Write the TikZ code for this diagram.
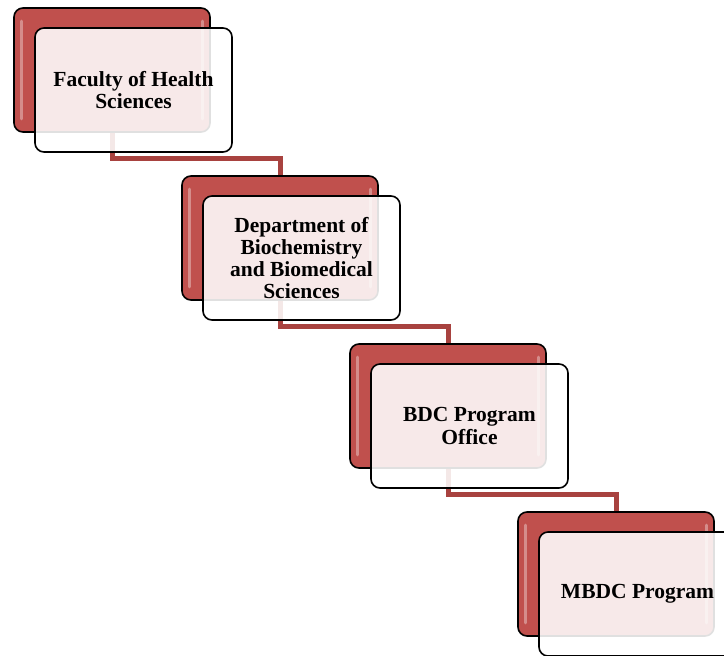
\documentclass[tikz,border=0pt]{standalone}
\usepackage{fontspec}
\newfontfamily\boxfont{Liberation Serif}
\usetikzlibrary{calc,backgrounds}
\definecolor{accent}{HTML}{C0504D}
\definecolor{conncol}{HTML}{A8423F}
\begin{document}
\begin{tikzpicture}[x=1pt,y=-1pt,
  redbox/.style={draw=black, line width=1.6pt, rounded corners=9pt,
    fill=accent, minimum width=196pt, minimum height=124pt, inner sep=0pt},
  whitebox/.style={draw=black, line width=1.6pt, rounded corners=9pt,
    fill=white, fill opacity=0.88, text opacity=1,
    minimum width=197pt, minimum height=124pt, align=center,
    font=\boxfont\bfseries\fontsize{21.5}{22.3}\selectfont},
  gloss/.style={draw=white, draw opacity=0.35, line width=3pt, line cap=round},
  conn/.style={draw=conncol, line width=5pt, line join=miter}]
\useasboundingbox (0,0) rectangle (724,656);
\node[redbox] (r1) at (112,70) {};
\draw[gloss] ($(r1.north west)+(8,14)$) -- ($(r1.south west)+(8,-14)$);
\draw[gloss] ($(r1.north east)+(-8,14)$) -- ($(r1.south east)+(-8,-14)$);
\node[whitebox] (w1) at (133.5,90) {Faculty of Health\\Sciences};
\node[redbox] (r2) at (280,238) {};
\draw[gloss] ($(r2.north west)+(8,14)$) -- ($(r2.south west)+(8,-14)$);
\draw[gloss] ($(r2.north east)+(-8,14)$) -- ($(r2.south east)+(-8,-14)$);
\node[whitebox] (w2) at (301.5,258) {Department of\\Biochemistry\\and Biomedical\\Sciences};
\node[redbox] (r3) at (448,406) {};
\draw[gloss] ($(r3.north west)+(8,14)$) -- ($(r3.south west)+(8,-14)$);
\draw[gloss] ($(r3.north east)+(-8,14)$) -- ($(r3.south east)+(-8,-14)$);
\node[whitebox] (w3) at (469.5,426) {BDC Program\\Office};
\node[redbox] (r4) at (616,574) {};
\draw[gloss] ($(r4.north west)+(8,14)$) -- ($(r4.south west)+(8,-14)$);
\draw[gloss] ($(r4.north east)+(-8,14)$) -- ($(r4.south east)+(-8,-14)$);
\node[whitebox] (w4) at (637.5,594) {MBDC Program};
\begin{scope}[on background layer]
  \draw[conn] (r1.south) |- ($(r2.north)+(0,-17)$) -- (r2.north);
  \draw[conn] (r2.south) |- ($(r3.north)+(0,-17)$) -- (r3.north);
  \draw[conn] (r3.south) |- ($(r4.north)+(0,-17)$) -- (r4.north);
\end{scope}
\end{tikzpicture}
\end{document}
